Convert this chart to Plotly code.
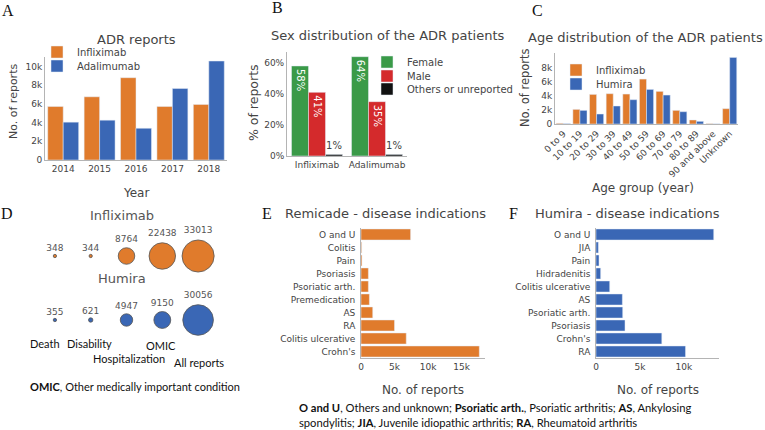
import plotly.graph_objects as go

# ---------------- data ----------------
years = ["2014", "2015", "2016", "2017", "2018"]
adr_infliximab = [5710, 6750, 8790, 5710, 5930]
adr_adalimumab = [4040, 4250, 3390, 7640, 10570]

sex_drugs = ["Infliximab", "Adalimumab"]
sex_female = [58, 64]
sex_male = [41, 35]
sex_other = [1, 1]

age_groups = ["0 to 9", "10 to 19", "20 to 29", "30 to 39", "40 to 49", "50 to 59",
              "60 to 69", "70 to 79", "80 to 89", "90 and above", "Unknown"]
age_infliximab = [100, 2080, 4210, 4310, 4260, 6390, 4640, 1940, 570, 50, 2180]
age_humira = [50, 1940, 1420, 2560, 3460, 4920, 4120, 1750, 380, 20, 9470]

outcome_labels = ["Death", "Disability", "Hospitalization", "OMIC", "All reports"]
outcome_infliximab = [348, 344, 8764, 22438, 33013]
outcome_humira = [355, 621, 4947, 9150, 30056]

remicade_ind = ["Crohn's", "Colitis ulcerative", "RA", "AS", "Premedication",
                "Psoriatic arth.", "Psoriasis", "Pain", "Colitis", "O and U"]
remicade_vals = [17650, 6750, 5000, 1750, 1250, 1100, 1100, 150, 100, 7400]

humira_ind = ["RA", "Crohn's", "Psoriasis", "Psoriatic arth.", "AS",
              "Colitis ulcerative", "Hidradenitis", "Pain", "JIA", "O and U"]
humira_vals = [10190, 7490, 3300, 3040, 3000, 1560, 530, 340, 270, 13400]

# ---------------- style ----------------
W, H = 765, 430
ORANGE = "#E07B2C"
BLUE = "#3A67B5"
GREEN = "#3A9A48"
RED = "#D42A2C"
BLACK = "#111111"
GRAY = "#444444"
LINE = "#b4b4b4"
FONT = "DejaVu Sans"


def px(x):
    return x / W


def py(y):
    return 1 - y / H


fig = go.Figure()

# Panel A
fig.add_trace(go.Bar(x=years, y=adr_infliximab, name="Infliximab", marker_color=ORANGE,
                     xaxis="x", yaxis="y", legend="legend"))
fig.add_trace(go.Bar(x=years, y=adr_adalimumab, name="Adalimumab", marker_color=BLUE,
                     xaxis="x", yaxis="y", legend="legend2"))

# Panel B
for vals, name, col, lg in [(sex_female, "Female", GREEN, "legend3"),
                            (sex_male, "Male", RED, "legend4"),
                            (sex_other, "Others or unreported", BLACK, "legend5")]:
    fig.add_trace(go.Bar(x=sex_drugs, y=vals, name=name, marker_color=col,
                         text=[f"{v}%" for v in vals], textposition="auto",
                         insidetextfont=dict(color="white", size=10, family=FONT),
                         outsidetextfont=dict(color=GRAY, size=10, family=FONT),
                         cliponaxis=False,
                         xaxis="x2", yaxis="y2", legend=lg))

# Panel C
fig.add_trace(go.Bar(x=age_groups, y=age_infliximab, name="Infliximab", marker_color=ORANGE,
                     xaxis="x3", yaxis="y3", legend="legend6"))
fig.add_trace(go.Bar(x=age_groups, y=age_humira, name="Humira", marker_color=BLUE,
                     xaxis="x3", yaxis="y3", legend="legend7"))

# Panel D
SIZEREF = 64
idx = list(range(len(outcome_labels)))
fig.add_trace(go.Scatter(x=idx, y=[1] * len(idx), mode="markers+text",
                         text=[str(v) for v in outcome_infliximab], textposition="top center",
                         textfont=dict(size=9, color="#555555", family=FONT),
                         marker=dict(size=outcome_infliximab, sizemode="area", sizeref=SIZEREF,
                                     color=ORANGE, opacity=1,
                                     line=dict(color="#555555", width=0.8)),
                         showlegend=False, xaxis="x4", yaxis="y4", cliponaxis=False))
fig.add_trace(go.Scatter(x=idx, y=[0] * len(idx), mode="markers+text",
                         text=[str(v) for v in outcome_humira], textposition="top center",
                         textfont=dict(size=9, color="#555555", family=FONT),
                         marker=dict(size=outcome_humira, sizemode="area", sizeref=SIZEREF,
                                     color=BLUE, opacity=1,
                                     line=dict(color="#555555", width=0.8)),
                         showlegend=False, xaxis="x4", yaxis="y4", cliponaxis=False))

# Panel E
fig.add_trace(go.Bar(y=remicade_ind, x=remicade_vals, orientation="h", marker_color=ORANGE,
                     showlegend=False, xaxis="x5", yaxis="y5"))
# Panel F
fig.add_trace(go.Bar(y=humira_ind, x=humira_vals, orientation="h", marker_color=BLUE,
                     showlegend=False, xaxis="x6", yaxis="y6"))

tickf = dict(size=9, color=GRAY, family=FONT)
ax_common = dict(showline=True, linecolor=LINE, linewidth=1, showgrid=False, zeroline=False,
                 ticks="", tickfont=tickf, automargin=False)

fig.update_layout(
    width=W, height=H,
    margin=dict(l=0, r=0, t=0, b=0, pad=0),
    paper_bgcolor="white", plot_bgcolor="white",
    font=dict(family=FONT, color=GRAY),
    barmode="group",
    bargap=0.15, bargroupgap=0,
    # A
    xaxis=dict(domain=[px(45), px(227)], anchor="y", **ax_common),
    yaxis=dict(domain=[py(160), py(57)], anchor="x", range=[0, 11000],
               tickvals=[0, 2000, 4000, 6000, 8000, 10000],
               ticktext=["0", "2k", "4k", "6k", "8k", "10k"], **ax_common),
    # B
    xaxis2=dict(domain=[px(287), px(407)], anchor="y2", **ax_common),
    yaxis2=dict(domain=[py(156), py(52)], anchor="x2", range=[0, 67],
                tickvals=[0, 20, 40, 60], ticktext=["0%", "20%", "40%", "60%"], **ax_common),
    # C
    xaxis3=dict(domain=[px(555), px(738)], anchor="y3", tickangle=-45, **ax_common),
    yaxis3=dict(domain=[py(124), py(53)], anchor="x3", range=[0, 10100],
                tickvals=[0, 2000, 4000, 6000, 8000],
                ticktext=["0", "2k", "4k", "6k", "8k"], **ax_common),
    # D
    xaxis4=dict(domain=[px(37), px(216)], anchor="y4", range=[-0.5, 4.5], visible=False,
                automargin=False),
    yaxis4=dict(domain=[py(352), py(224)], anchor="x4", range=[-0.5, 1.5], visible=False,
                automargin=False),
    # E
    xaxis5=dict(domain=[px(361), px(485)], anchor="y5", range=[0, 18500],
                tickvals=[0, 5000, 10000, 15000], ticktext=["0", "5k", "10k", "15k"], **ax_common),
    yaxis5=dict(domain=[py(358), py(228)], anchor="x5", ticksuffix=" ", **ax_common),
    # F
    xaxis6=dict(domain=[px(596), px(719)], anchor="y6", range=[0, 14000],
                tickvals=[0, 5000, 10000], ticktext=["0", "5k", "10k"], **ax_common),
    yaxis6=dict(domain=[py(358), py(228)], anchor="x6", ticksuffix=" ", **ax_common),
)

# one legend per entry, so each swatch sits where the reference has it
LEG_DX = 20
legend_pos = {
    "legend": (57, 52), "legend2": (57, 66),
    "legend3": (387, 62), "legend4": (387, 76), "legend5": (387, 89),
    "legend6": (576, 70), "legend7": (576, 84),
}
for key, (sx, sy) in legend_pos.items():
    fig.update_layout({key: dict(x=px(sx - LEG_DX), y=py(sy), xanchor="left", yanchor="middle",
                                 bgcolor="rgba(0,0,0,0)", borderwidth=0,
                                 font=dict(size=10, color=GRAY, family=FONT),
                                 itemwidth=30)})

ann = []


def text(x, y, s, size=13, color=GRAY, family=FONT, angle=0, xanchor="center"):
    ann.append(dict(x=px(x), y=py(y), xref="paper", yref="paper", text=s, showarrow=False,
                    font=dict(size=size, color=color, family=family), textangle=angle,
                    xanchor=xanchor, yanchor="middle"))


# panel letters
SERIF = "Liberation Serif"
for lx, ly, l in [(8, 10, "A"), (277, 8, "B"), (537, 11, "C"),
                  (7, 213, "D"), (267, 214, "E"), (513, 214, "F")]:
    text(lx, ly, l, size=16, color="#111111", family=SERIF)

# titles
text(136, 39, "ADR reports")
text(388, 35, "Sex distribution of the ADR patients")
text(645, 37, "Age distribution of the ADR patients")
text(385, 214, "Remicade - disease indications")
text(627, 214, "Humira - disease indications")

# axis titles
text(136, 193, "Year", size=12)
text(13, 102, "No. of reports", size=11, angle=-90)
text(253, 103, "% of reports", size=12.5, angle=-90)
text(525, 88, "No. of reports", size=11.5, angle=-90)
text(643, 188, "Age group (year)", size=12)
text(423, 390, "No. of reports", size=12)
text(658, 390, "No. of reports", size=12)

# panel D labels
text(122, 215, "Infliximab", size=13, color="#555555")
text(122, 278, "Humira", size=13, color="#555555")
CAL = "Lato"
text(45, 343, "Death", size=11, color="#111111", family=CAL)
text(89, 343, "Disability", size=11, color="#111111", family=CAL)
text(161, 345, "OMIC", size=11, color="#111111", family=CAL)
text(129, 358, "Hospitalization", size=11, color="#111111", family=CAL)
text(199, 362, "All reports", size=11, color="#111111", family=CAL)
text(135, 386, "<b>OMIC</b>, Other medically important condition", size=11,
     color="#111111", family=CAL)

# footnote
text(297, 407, "<b>O and U</b>, Others and unknown; <b>Psoriatic arth.</b>, Psoriatic arthritis; "
     "<b>AS</b>, Ankylosing", size=11.2, color="#111111", family=CAL, xanchor="left")
text(297, 422, "spondylitis; <b>JIA</b>, Juvenile idiopathic arthritis; <b>RA</b>, Rheumatoid arthritis",
     size=11.2, color="#111111", family=CAL, xanchor="left")

fig.update_layout(annotations=ann)
fig.write_html("out.html", config={"displayModeBar": False},
               post_script="document.body.style.margin='0';")
